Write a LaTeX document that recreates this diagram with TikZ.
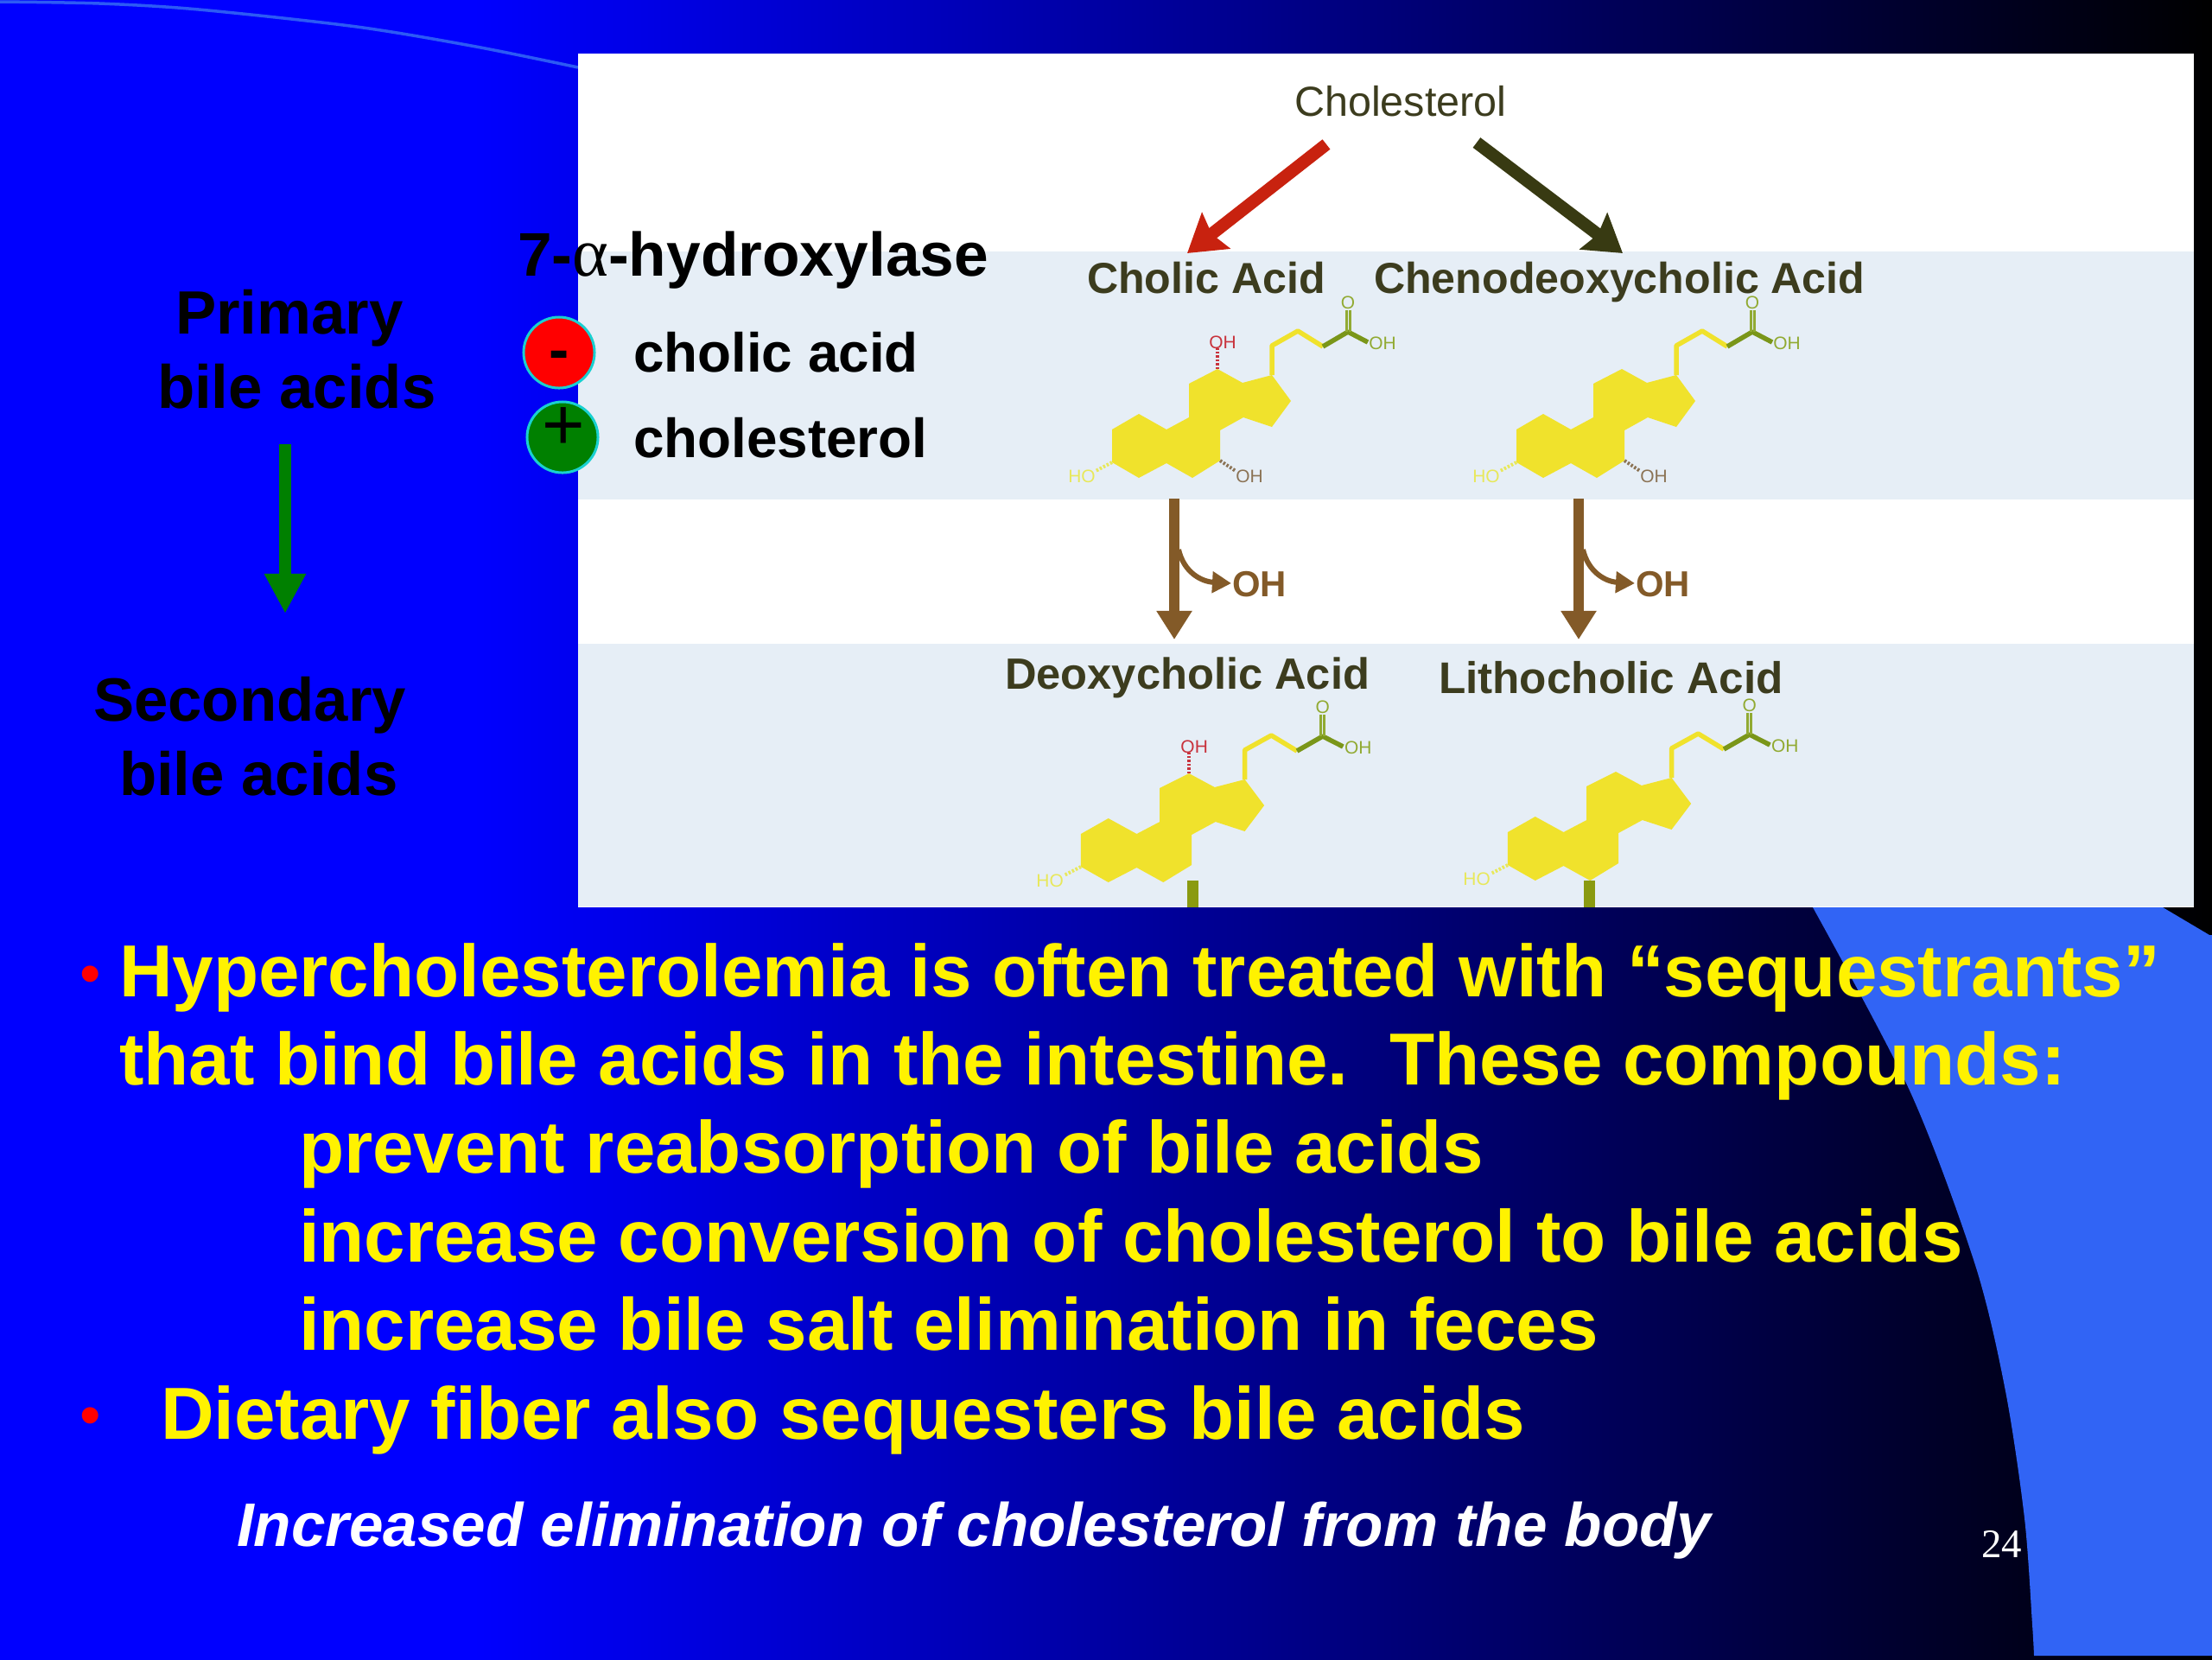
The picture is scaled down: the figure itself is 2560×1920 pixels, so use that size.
\documentclass[tikz,border=0pt]{standalone}
\usepackage{fontspec}
\setmainfont{Liberation Sans}
\newfontfamily\serifface{Liberation Serif}
\usetikzlibrary{arrows.meta}
% font size in tenths of a picture pixel
\newcommand\pxf[1]{\fontsize{\the\dimexpr 0.028346pt*#1\relax}{\the\dimexpr 0.034pt*#1\relax}\selectfont}
\definecolor{bgA}{RGB}{0,0,255}
\definecolor{swoosh}{RGB}{49,100,245}
\definecolor{band}{RGB}{230,238,246}
\definecolor{figtext}{RGB}{60,60,30}
\definecolor{arrowred}{RGB}{200,34,15}
\definecolor{arrowdark}{RGB}{56,58,18}
\definecolor{acidbrown}{RGB}{131,90,40}
\definecolor{ringyellow}{RGB}{240,226,44}
\definecolor{hoyellow}{RGB}{232,232,90}
\definecolor{oliveA}{RGB}{122,150,25}
\definecolor{oliveB}{RGB}{145,170,50}
\definecolor{oliveBar}{RGB}{138,154,16}
\definecolor{ohred}{RGB}{200,50,60}
\definecolor{ohbrown}{RGB}{139,115,85}
\definecolor{ringcyan}{RGB}{25,208,208}
\definecolor{slidegreen}{RGB}{0,128,0}
\pgfdeclarehorizontalshading{slidebg}{100bp}{color(0bp)=(bgA); color(25bp)=(bgA); color(35.7bp)=(bgA); color(75bp)=(black); color(100bp)=(black)}
\tikzset{
  txt/.style={anchor=base west,inner sep=0pt,outer sep=0pt},
  mainline/.style={txt,text=yellow,font=\pxf{856}\bfseries},
  leftlabel/.style={txt,text=black,font=\pxf{710}\bfseries},
  sidelabel/.style={txt,text=black,font=\pxf{640}\bfseries},
  acidname/.style={txt,text=figtext,font=\pxf{503}\bfseries},
  atom/.style={anchor=center,inner sep=0pt,outer sep=0pt,font=\pxf{210}},
  chainline/.style={line width=0.55mm,line join=round},
  hatch/.style={line width=0.4mm,dash pattern=on 0.25mm off 0.2mm},
  oharrow/.style={acidbrown,line width=1.25mm,-{Triangle[length=3.3mm,width=3.9mm]}},
  ohbranch/.style={acidbrown,line width=0.6mm,-{Triangle[length=2.2mm,width=2.4mm]}},
  sign/.style={circle,draw=ringcyan,line width=0.3mm,minimum size=8.2mm,inner sep=0pt},
  mainarrow/.style={line width=1.45mm,-{Stealth[length=4.2mm,width=5.2mm,inset=0.6mm]}}
}
\newcommand\steroid[6]{%
\begin{scope}[shift={(#1,#2)},xscale=#6]
  \fill[ringyellow] (-122,70)--(-91,52)--(-59,70)--(-33,56)--(-33,17)--(0,0)--(29,16)--(63,7)--(85,37)--(63,67)--(30,56)--(3,71)--(3,106)--(-29,126)--(-59,109)--(-91,126)--(-122,108)--cycle;
  \draw[chainline,ringyellow] (63,7)--(63,-27)--(93,-44)--(122,-26);
  \draw[chainline,oliveA] (122,-26)--(151,-43)--(174,-31);
  \draw[oliveB,line width=0.3mm] (149,-43)--(149,-68) (153,-43)--(153,-68);
  \node[atom,text=oliveB] (#3o) at (151,-77) {O};
  \node[atom,text=oliveB] (#3oh) at (191,-30) {OH};
  \node[atom,text=hoyellow] (#3ho) at (-157,124) {HO};
  \draw[hatch,hoyellow] (-122,108)--(-141,118);
  \ifnum#4=1
    \node[atom,text=ohred] (#3red) at (6,-31) {OH};
    \draw[hatch,ohred] (0,0)--(0,-24);
  \fi
  \ifnum#5=1
    \node[atom,text=ohbrown] (#3brown) at (37,124) {OH};
    \draw[hatch,ohbrown] (3,106)--(21,118);
  \fi
\end{scope}}
\begin{document}
\begin{tikzpicture}[x=0.01cm,y=-0.01cm]
\useasboundingbox (0,0) rectangle (2560,1920);
\shade[shading=slidebg] (0,0) rectangle (2560,1920);
% swoosh
\fill[swoosh] plot[smooth] coordinates {(2503,1050)(2557,1082)} -- (2560,1082) -- (2560,1916) -- (2354,1916) -- plot[smooth] coordinates {(2354,1916)(2352,1880)(2343,1757)(2321,1610)(2286,1464)(2211,1264)(2098,1050)} -- (2000,950) -- (669,80) -- (669,70) -- cycle;
\draw[swoosh,line width=0.35mm,opacity=0.9] plot[smooth] coordinates {(0,2)(115,4)(230,11)(413,31)(551,54)(669,78)};
% figure panel
\fill[white] (669,62) rectangle (2539,1050);
\fill[band] (669,291) rectangle (2539,578);
\fill[band] (669,745) rectangle (2539,1049);
% figure
\node[txt,text=figtext,font=\pxf{487}] (chol) at (1498,134) {Cholesterol};
\coordinate (redstart) at (1535,167); \coordinate (redtip) at (1374,293);
\coordinate (darkstart) at (1709,165); \coordinate (darktip) at (1878,293);
\draw[arrowred,mainarrow] (redstart)--(redtip);
\draw[arrowdark,mainarrow] (darkstart)--(darktip);
\node[acidname] (cholic) at (1258,339) {Cholic Acid};
\node[acidname] (cheno) at (1590,339) {Chenodeoxycholic Acid};
\node[acidname,font=\pxf{508}\bfseries] (deoxy) at (1163,797) {Deoxycholic Acid};
\node[acidname,font=\pxf{514}\bfseries] (litho) at (1665,802) {Lithocholic Acid};
\steroid{1409}{427}{ca}{1}{1}{1}
\steroid{1877}{427}{cd}{0}{1}{1}
\steroid{1376}{895}{da}{1}{0}{1.025}
\steroid{1870}{893}{la}{0}{0}{1.025}
% dehydroxylation arrows
\coordinate (bA) at (1359,577); \coordinate (bAtip) at (1359,740);
\coordinate (bAb) at (1364,636); \coordinate (bAo) at (1425,675);
\coordinate (bB) at (1827,577); \coordinate (bBtip) at (1827,740);
\coordinate (bBb) at (1832,636); \coordinate (bBo) at (1892,675);
\draw[oharrow] (bA)--(bAtip);
\draw[oharrow] (bB)--(bBtip);
\draw[ohbranch] (bAb) .. controls (1370,662) and (1390,673) .. (bAo);
\draw[ohbranch] (bBb) .. controls (1838,662) and (1858,673) .. (bBo);
\node[txt,text=acidbrown,font=\pxf{420}\bfseries] (ohA) at (1426,690) {OH};
\node[txt,text=acidbrown,font=\pxf{420}\bfseries] (ohB) at (1893,690) {OH};
% stubs at the cut edge of the figure
\fill[oliveBar] (1374,1019) rectangle (1387,1050);
\fill[oliveBar] (1833,1019) rectangle (1846,1050);
% left labels
\node[leftlabel] (prim) at (203,386) {Primary};
\node[leftlabel] (primb) at (182,472) {bile acids};
\node[leftlabel] (sec) at (108,834) {Secondary};
\node[leftlabel] (secb) at (138,920) {bile acids};
\coordinate (gstart) at (330,514); \coordinate (gtip) at (330,710);
\draw[slidegreen,line width=1.4mm,-{Triangle[length=4.6mm,width=4.5mm]}] (gstart)--(gtip);
% enzyme
\node[leftlabel,font=\pxf{715}\bfseries] (enz) at (599,319) {7-{\serifface\mdseries\pxf{800}α}-hydroxylase};
\node[sign,fill=red] (minusring) at (647,408) {};
\node[anchor=base,inner sep=0pt,font=\pxf{700}\bfseries] (minus) at (647,428) {-};
\node[sign,fill=slidegreen] (plusring) at (651,506) {};
\node[inner sep=0pt,font=\pxf{850}] (plus) at (652,496) {+};
\node[sidelabel] (ca) at (733,430) {cholic acid};
\node[sidelabel] (ce) at (733,529) {cholesterol};
% main text
\node[txt,text=red,font=\pxf{700}] (b1) at (92,1150) {•};
\node[mainline] (l1) at (138,1153) {Hypercholesterolemia is often treated with “sequestrants”};
\node[mainline] (l2) at (138,1255) {that bind bile acids in the intestine.\ \ These compounds:};
\node[mainline] (l3) at (346,1357) {prevent reabsorption of bile acids};
\node[mainline] (l4) at (346,1460) {increase conversion of cholesterol to bile acids};
\node[mainline] (l5) at (346,1562) {increase bile salt elimination in feces};
\node[txt,text=red,font=\pxf{700}] (b2) at (92,1661) {•};
\node[mainline] (l6) at (186,1665) {Dietary fiber also sequesters bile acids};
\node[txt,text=white,font=\pxf{713}\bfseries\itshape] (l7) at (274,1789) {Increased elimination of cholesterol from the body};
\node[txt,text=white,font=\serifface\pxf{470}] (page) at (2293,1802) {24};
\end{tikzpicture}
\end{document}
